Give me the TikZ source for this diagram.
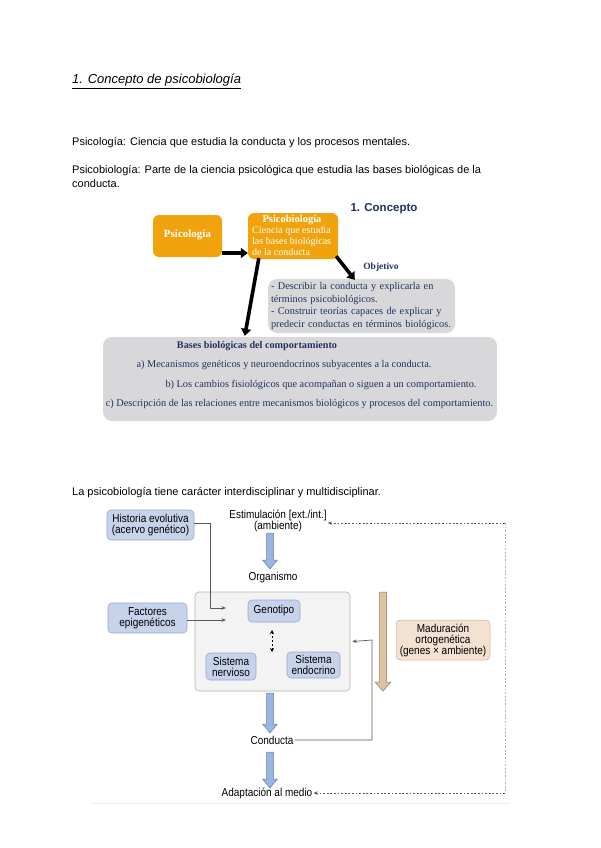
\documentclass[tikz,border=0pt]{standalone}
\usepackage{fontspec}
\setmainfont{Liberation Sans}
\newfontfamily\seriffam{Liberation Serif}
\newfontfamily\condfam[FakeStretch=0.87]{Liberation Sans}
\usetikzlibrary{arrows.meta,calc}
\definecolor{orng}{RGB}{240,163,12}
\definecolor{gbox}{RGB}{216,216,219}
\definecolor{navy}{RGB}{32,50,92}
\definecolor{bfill}{RGB}{199,211,235}
\definecolor{bdraw}{RGB}{150,168,205}
\definecolor{afill}{RGB}{152,182,224}
\definecolor{adraw}{RGB}{105,128,170}
\definecolor{tfill}{RGB}{243,225,210}
\definecolor{tdraw}{RGB}{200,175,150}
\definecolor{tarrow}{RGB}{224,194,162}
\definecolor{tarrowd}{RGB}{150,120,95}
\definecolor{obox}{RGB}{243,243,243}
\definecolor{oboxd}{RGB}{180,180,180}
\definecolor{linegray}{RGB}{90,90,90}
\newcommand\fatarrow[5]{% style, from, to, half shaft, half head
  \draw[#1] let \p1=(#2), \p2=(#3) in
    (\x1-#4,\y1) -- (\x1+#4,\y1) -- (\x1+#4,\y2+9pt) -- (\x1+#5,\y2+9pt)
    -- (\x1,\y2) -- (\x1-#5,\y2+9pt) -- (\x1-#4,\y2+9pt) -- cycle;}
\tikzset{
  bodytext/.style={anchor=base west, inner sep=0pt, font=\fontsize{11}{12}\selectfont},
  orangebox/.style={fill=orng, rounded corners=6pt, text=white, font=\seriffam\fontsize{10}{11}\selectfont},
  graybox/.style={fill=gbox, rounded corners=9pt, text=navy, font=\seriffam\fontsize{10.3}{12.4}\selectfont},
  bigline/.style={anchor=base, inner sep=0pt, text=navy, font=\seriffam\fontsize{10.3}{11}\selectfont},
  thickarr/.style={line width=3.6pt, -{Triangle[length=7pt,width=10pt]}},
  bluebox/.style={fill=bfill, draw=bdraw, line width=0.6pt, rounded corners=4pt, align=center, inner sep=1pt, font=\condfam\fontsize{11.5}{11}\selectfont},
  plain/.style={align=center, inner sep=1pt, font=\condfam\fontsize{11.5}{11}\selectfont},
  conn/.style={draw=linegray, line width=0.7pt},
  connarr/.style={conn, -{Stealth[length=4.5pt,width=3.5pt]}},
  dotconn/.style={draw=linegray, line width=0.8pt, dash pattern=on 1.8pt off 1.8pt},
  bluearr/.style={fill=afill, draw=adraw, line width=0.5pt},
  tanarr/.style={fill=tarrow, draw=tarrowd, line width=0.5pt},
}
\begin{document}
\begin{tikzpicture}[x=1pt,y=-1pt]
\useasboundingbox[fill=white] (0,0) rectangle (600,848);

% ---- text ----
\node[bodytext, font=\fontsize{13}{14}\selectfont\itshape] (title) at (72,84) {\underline{1. Concepto de psicobiología}};
\node[bodytext] (t1) at (72,145) {Psicología: Ciencia que estudia la conducta y los procesos mentales.};
\node[bodytext] (t2) at (72,173) {Psicobiología: Parte de la ciencia psicológica que estudia las bases biológicas de la};
\node[bodytext] (t3) at (72,187) {conducta.};
\node[bodytext] (t4) at (72,495) {La psicobiología tiene carácter interdisciplinar y multidisciplinar.};

% ---- top diagram ----
\node[orangebox, minimum width=69pt, minimum height=42pt, font=\seriffam\bfseries\fontsize{11}{12}\selectfont] (psi) at (187.5,236) {\raisebox{4pt}{Psicología}};
\node[orangebox, minimum width=90pt, minimum height=46pt] (pbio) at (293,236) {};
\node[anchor=base, inner sep=0pt, text=white, font=\seriffam\bfseries\fontsize{10.5}{11}\selectfont] (pbiot) at (292,222) {Psicobiología};
\node[anchor=north west, inner sep=0pt, text=white, align=left, font=\seriffam\fontsize{10}{11}\selectfont] (pbiod) at (252,226) {Ciencia que estudia\\las bases biológicas\\de la conducta};
\node[anchor=center, inner sep=0pt, text=navy, font=\bfseries\fontsize{11.5}{13}\selectfont] (conc) at (384,209) {1. Concepto};
\node[anchor=center, inner sep=0pt, text=navy, font=\seriffam\bfseries\fontsize{9.5}{11}\selectfont] (objt) at (381,267) {Objetivo};
\node[graybox, text width=181pt, minimum height=54pt, align=left, inner sep=3pt] (obj) at (361.5,306) {- Describir la conducta y explicarla en\\términos psicobiológicos.\\- Construir teorías capaces de explicar y\\predecir conductas en términos biológicos.};
\node[graybox, minimum width=394pt, minimum height=84pt, inner sep=0pt] (bases) at (300,379) {};
\node[bigline, font=\seriffam\bfseries\fontsize{10.2}{11}\selectfont] (bt) at (257,348) {Bases biológicas del comportamiento};
\node[bigline] (ba) at (284,367) {a) Mecanismos genéticos y neuroendocrinos subyacentes a la conducta.};
\node[bigline] (bb) at (321,387) {b) Los cambios fisiológicos que acompañan o siguen a un comportamiento.};
\node[bigline] (bc) at (299.5,406) {c) Descripción de las relaciones entre mecanismos biológicos y procesos del comportamiento.};

\draw[thickarr] ([yshift=-17pt]psi.east) -- ([yshift=-17pt]pbio.west);
\draw[thickarr] ($(pbio.south west)+(11,-1)$) -- ($(bases.north west)+(142,-1)$);
\draw[thickarr] ($(pbio.south east)+(-2,-3)$) -- ($(obj.north west)+(87,1)$);

% ---- bottom diagram ----
\draw[black!8, line width=1pt] (92,803) -- (510,803);
\node[bluebox, minimum width=87pt, minimum height=30pt] (hist) at (150.5,525) {Historia evolutiva\\(acervo genético)};
\node[plain] (stim) at (278,521) {Estimulación [ext./int.]\\(ambiente)};
\node[plain] (org) at (273,578) {Organismo};
\node[fill=obox, draw=oboxd, line width=0.6pt, rounded corners=4pt, minimum width=155pt, minimum height=99pt] (orgbox) at (272.5,641.5) {};
\node[bluebox, minimum width=79pt, minimum height=30pt] (fact) at (147.5,618) {Factores\\epigenéticos};
\node[bluebox, minimum width=52pt, minimum height=22pt] (geno) at (274,611) {Genotipo};
\node[bluebox, minimum width=50pt, minimum height=27pt] (nerv) at (231,666.5) {Sistema\\nervioso};
\node[bluebox, minimum width=53pt, minimum height=26pt] (endo) at (313.5,665) {Sistema\\endocrino};
\node[plain] (cond) at (272,740) {Conducta};
\node[plain] (adap) at (267,793) {Adaptación al medio};
\node[fill=tfill, draw=tdraw, line width=0.5pt, rounded corners=4pt, minimum width=94pt, minimum height=40pt, align=center, inner sep=1pt, font=\condfam\fontsize{11.5}{11}\selectfont] (mad) at (443,640) {Maduración\\ortogenética\\(genes × ambiente)};

% coordinates for connectors
\coordinate (a1s) at (270,533); \coordinate (a1e) at (270,569);
\coordinate (a2s) at (270,693); \coordinate (a2e) at (270,733);
\coordinate (a3s) at (270,752); \coordinate (a3e) at (270,788);
\coordinate (m1s) at (383,592); \coordinate (m1e) at (383,691);
\coordinate (in1) at (226,608); \coordinate (in2) at (226,620);
\coordinate (d1) at (272,630); \coordinate (d2) at (272,652);
\coordinate (fbR) at (505,523); \coordinate (fbB) at (505,793);

\fatarrow{bluearr}{a1s}{a1e}{3.5pt}{7.5pt}
\fatarrow{bluearr}{a2s}{a2e}{3.5pt}{7.5pt}
\fatarrow{bluearr}{a3s}{a3e}{3.5pt}{7.5pt}
\fatarrow{tanarr}{m1s}{m1e}{3.5pt}{8pt}

\draw[connarr] ([yshift=2pt]hist.east) -| (210,608) -- (in1);
\draw[connarr] ([yshift=-2pt]fact.east) -- (in2);
\draw[draw=black, line width=0.8pt, dash pattern=on 2pt off 2pt, {Stealth[length=4pt,width=4pt]}-{Stealth[length=4pt,width=4pt]}] (d1) -- (d2);
\draw[connarr] (cond.east) -- (372,740) -- (372,640) -- ([xshift=2pt]orgbox.east);
\draw[dotconn, -{Stealth[length=4pt,width=3.5pt]}] (fbR) -- (stim.east |- fbR);
\draw[dotconn, draw=black!30] (fbR) -- (fbB);
\draw[dotconn, -{Stealth[length=4pt,width=3.5pt]}] (fbB) -- (adap.east);
\end{tikzpicture}
\end{document}
